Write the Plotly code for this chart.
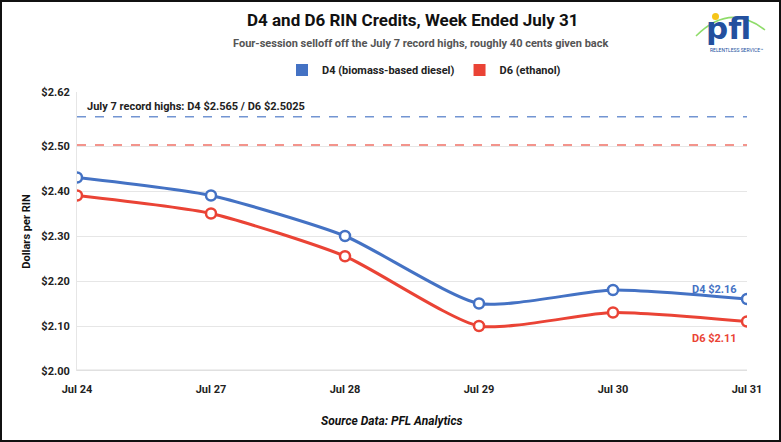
import plotly.graph_objects as go

# data
dates = ["Jul 24", "Jul 27", "Jul 28", "Jul 29", "Jul 30", "Jul 31"]
d4_values = [2.43, 2.39, 2.30, 2.15, 2.18, 2.16]
d6_values = [2.39, 2.35, 2.255, 2.10, 2.13, 2.11]
d4_record = 2.565
d6_record = 2.5025
y_ticks = [2.00, 2.10, 2.20, 2.30, 2.40, 2.50, 2.62]
y_tick_labels = ["$2.00", "$2.10", "$2.20", "$2.30", "$2.40", "$2.50", "$2.62"]

BLUE = "#4472c4"
RED = "#ea4335"
FONT = "Roboto"

W, H = 781, 442
ML, MR, MT, MB = 77, 34, 92, 71
PW, PH = W - ML - MR, H - MT - MB


def px(x):
    return (x - ML) / PW


def py(y):
    return (H - MB - y) / PH


fig = go.Figure()

series = [("D4 (biomass-based diesel)", d4_values, BLUE),
          ("D6 (ethanol)", d6_values, RED)]

for name, vals, col in series:
    fig.add_trace(go.Scatter(
        x=dates, y=vals, name=name, mode="lines+markers", showlegend=False,
        line=dict(color=col, width=3, shape="spline", smoothing=0.6),
        marker=dict(size=10, color="white", line=dict(color=col, width=2.5)),
        hoverinfo="skip",
    ))
# square legend swatches
for name, vals, col in series:
    fig.add_trace(go.Scatter(
        x=[None], y=[None], name=name, mode="markers",
        marker=dict(symbol="square", size=12, color=col),
    ))

# record-high reference lines
for val, col in [(d4_record, BLUE), (d6_record, RED)]:
    fig.add_shape(type="line", xref="paper", x0=0, x1=1, yref="y", y0=val, y1=val,
                  line=dict(color=col, width=1.5, dash="dash"), opacity=0.75, layer="below")

fig.add_annotation(x=0, y=d4_record, xref="paper", yref="y", xanchor="left", yanchor="bottom",
                   xshift=8, yshift=2, showarrow=False,
                   text=f"July 7 record highs: D4 ${d4_record:.3f} / D6 ${d6_record:.4f}",
                   font=dict(family=FONT, size=11, color="#222222", weight="bold"))

fig.add_annotation(x=dates[-1], y=d4_values[-1], xanchor="right", yanchor="bottom", xshift=-8, yshift=1,
                   showarrow=False, text=f"D4 ${d4_values[-1]:.2f}",
                   font=dict(family=FONT, size=11, color=BLUE, weight="bold"))
fig.add_annotation(x=dates[-1], y=d6_values[-1], xanchor="right", yanchor="top", xshift=-8, yshift=-8,
                   showarrow=False, text=f"D6 ${d6_values[-1]:.2f}",
                   font=dict(family=FONT, size=11, color=RED, weight="bold"))

# titles
fig.add_annotation(x=px(413), y=py(20), xref="paper", yref="paper", xanchor="center", yanchor="middle",
                   showarrow=False, text="D4 and D6 RIN Credits, Week Ended July 31",
                   font=dict(family=FONT, size=17, color="#111111", weight="bold"))
fig.add_annotation(x=px(420), y=py(44), xref="paper", yref="paper", xanchor="center", yanchor="middle",
                   showarrow=False,
                   text="Four-session selloff off the July 7 record highs, roughly 40 cents given back",
                   font=dict(family=FONT, size=11, color="#555555", weight="bold"))
fig.add_annotation(x=px(392), y=py(421), xref="paper", yref="paper", xanchor="center", yanchor="middle",
                   showarrow=False, text="<i>Source Data: PFL Analytics</i>",
                   font=dict(family=FONT, size=12, color="#111111", weight="bold"))

# logo
fig.add_shape(type="path", xref="paper", yref="paper",
              path=f"M {px(696)},{py(36)} Q {px(730)},{py(2)} {px(765)},{py(30)}",
              line=dict(color="#8fdc6a", width=1.5))
fig.add_annotation(x=px(728), y=py(28), xref="paper", yref="paper", xanchor="center", yanchor="middle",
                   showarrow=False, text="pfl",
                   font=dict(family="DejaVu Sans", size=31, color="#23509e", weight="bold"))
fig.add_shape(type="circle", xref="paper", yref="paper",
              x0=px(712), x1=px(719), y0=py(13), y1=py(20),
              fillcolor="#f5c518", line=dict(width=0))
fig.add_annotation(x=px(736), y=py(50), xref="paper", yref="paper", xanchor="center", yanchor="middle",
                   showarrow=False, text="RELENTLESS SERVICE™",
                   font=dict(family=FONT, size=5, color="#23509e"))

# outer frame
fig.add_shape(type="rect", xref="paper", yref="paper",
              x0=px(1), x1=px(780), y0=py(441), y1=py(1),
              line=dict(color="#111111", width=2))

fig.update_layout(
    width=W, height=H,
    margin=dict(l=ML, r=MR, t=MT, b=MB),
    paper_bgcolor="white", plot_bgcolor="white",
    font=dict(family=FONT, size=11, color="#222222"),
    showlegend=True,
    legend=dict(orientation="h", x=px(424), xanchor="center", y=py(70), yanchor="middle",
                font=dict(family=FONT, size=11, color="#222222", weight="bold"),
                itemwidth=30, tracegroupgap=0),
    xaxis=dict(type="category", range=[0, len(dates) - 1], showgrid=False,
               showline=False, ticks="outside", ticklen=8, tickcolor="white", zeroline=False,
               tickfont=dict(family=FONT, size=11, color="#222222", weight="bold")),
    yaxis=dict(range=[2.0, 2.62], tickvals=y_ticks, ticktext=y_tick_labels,
               showgrid=True, gridcolor="#e6e6e6", gridwidth=1, zeroline=False,
               showline=True, linecolor="#e6e6e6", ticks="outside", ticklen=4, tickcolor="white",
               tickfont=dict(family=FONT, size=11, color="#222222", weight="bold"),
               title=dict(text="Dollars per RIN", standoff=8,
                          font=dict(family=FONT, size=11, color="#111111", weight="bold"))),
)

# thick light baseline at $2.00
fig.add_shape(type="line", xref="paper", x0=0, x1=1, yref="y", y0=2.0, y1=2.0,
              line=dict(color="#e0e0e0", width=3), layer="below")

fig.write_html("out.html", config={"displayModeBar": False},
               post_script="document.body.style.margin='0';")
